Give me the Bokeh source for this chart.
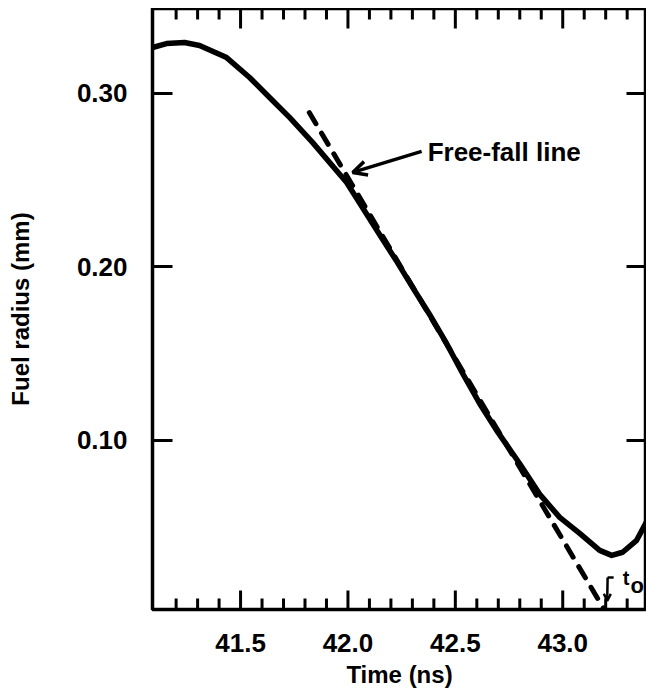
from bokeh.plotting import figure
from bokeh.layouts import column
from bokeh.models import (Range1d, LinearAxis, FixedTicker, PrintfTickFormatter,
                          Label, Arrow, OpenHead, Spacer)
from bokeh.embed import file_html
from bokeh.resources import INLINE

# ---- data ----
time_ns = [41.09, 41.155, 41.239, 41.309, 41.435, 41.542, 41.649, 41.728, 41.835,
           41.994, 42.147, 42.227, 42.301, 42.380, 42.459, 42.534, 42.613, 42.692,
           42.799, 42.893, 42.986, 43.079, 43.172, 43.228, 43.279, 43.344, 43.39]
radius_mm = [0.3265, 0.3288, 0.3294, 0.3277, 0.3207, 0.3092, 0.2960, 0.2862, 0.2718,
             0.2487, 0.2187, 0.2032, 0.1882, 0.1726, 0.1559, 0.1386, 0.1213, 0.1058,
             0.0867, 0.0689, 0.0556, 0.0464, 0.0366, 0.0337, 0.0355, 0.0424, 0.0530]

freefall_time = [41.82, 43.205]
freefall_radius = [0.289, 0.0]

x_major = [41.5, 42.0, 42.5, 43.0]
x_minor = [41.2, 41.3, 41.4, 41.6, 41.7, 41.8, 41.9, 42.1, 42.2, 42.3, 42.4,
           42.6, 42.7, 42.8, 42.9, 43.1, 43.2, 43.3]
y_major = [0.10, 0.20, 0.30]

X_START, X_END = 41.09, 43.39
Y_START, Y_END = 0.0025, 0.349

FONT = "Liberation Sans"

FIG_W, FIG_H = 646, 683
BORDER_L, BORDER_B = 152, 82
FRAME_H = FIG_H - BORDER_B          # top border is 0
PX_Y = (Y_END - Y_START) / FRAME_H  # data units per screen pixel (y)

p = figure(width=FIG_W, height=FIG_H, output_backend="svg", toolbar_location=None,
           x_range=Range1d(X_START, X_END), y_range=Range1d(Y_START, Y_END),
           x_axis_location=None, y_axis_location=None,
           min_border_left=BORDER_L, min_border_right=0, min_border_top=0,
           min_border_bottom=BORDER_B)
p.grid.grid_line_color = None
p.outline_line_color = "black"
p.outline_line_width = 3.5


def tick_axis(ticker, tin_major, tin_minor):
    ax = LinearAxis(ticker=ticker)
    ax.axis_line_color = None
    ax.major_tick_in = tin_major
    ax.major_tick_out = 0
    ax.minor_tick_in = tin_minor
    ax.minor_tick_out = 0
    ax.major_tick_line_width = 3
    ax.minor_tick_line_width = 3
    ax.major_tick_line_color = "black"
    ax.minor_tick_line_color = "black"
    ax.major_label_standoff = 0
    return ax


def label_axis(ticks, fmt, label, standoff, label_standoff):
    ax = LinearAxis(ticker=FixedTicker(ticks=ticks, minor_ticks=[]))
    ax.formatter = PrintfTickFormatter(format=fmt)
    ax.axis_line_color = None
    ax.major_tick_line_color = None
    ax.minor_tick_line_color = None
    ax.major_tick_in = 0
    ax.major_tick_out = 0
    ax.minor_tick_in = 0
    ax.minor_tick_out = 0
    ax.major_label_text_font = FONT
    ax.major_label_text_font_style = "bold"
    ax.major_label_text_font_size = "26px"
    ax.major_label_text_color = "black"
    ax.major_label_standoff = standoff
    ax.axis_label = label
    ax.axis_label_text_font = FONT
    ax.axis_label_text_font_style = "bold"
    ax.axis_label_text_font_size = "24px"
    ax.axis_label_text_color = "black"
    ax.axis_label_standoff = label_standoff
    return ax


# bottom labels
p.add_layout(label_axis(x_major, "%.1f", "Time (ns)", 24, 6), "below")

# left: tick marks (inner) + labels (outer)
p.add_layout(tick_axis(FixedTicker(ticks=[], minor_ticks=y_major), 0, 20), "left")
yl = label_axis(y_major, "%.2f", "Fuel radius (mm)", 25, 40)
yl.major_label_orientation = "horizontal"
p.add_layout(yl, "left")

# right: tick marks
p.add_layout(tick_axis(FixedTicker(ticks=[], minor_ticks=y_major), 0, 20), "right")


# inward tick marks on the bottom and top edges, at the x tick values,
# drawn as vertical dash markers whose length is given in screen pixels
def edge_ticks(xs, y_edge, length_px, direction):
    y_mid = y_edge + direction * 0.5 * length_px * PX_Y
    p.scatter(x=xs, y=[y_mid] * len(xs), marker="dash", size=length_px,
              angle=90, angle_units="deg", line_width=3, line_color="black",
              fill_color="black")


edge_ticks(x_major, Y_START, 19, +1)
edge_ticks(x_minor, Y_START, 11, +1)
edge_ticks(x_major, Y_END, 20, -1)
edge_ticks(x_minor, Y_END, 11, -1)

# curves
p.line(time_ns, radius_mm, line_width=5.5, line_color="black",
       line_join="round", line_cap="round")
p.line(freefall_time, freefall_radius, line_width=5, line_color="black",
       line_dash="13 11", line_cap="round")

# annotations
p.add_layout(Label(x=42.371, y=0.2665, text="Free-fall line", text_font=FONT,
                   text_font_style="bold", text_font_size="26px",
                   text_color="black", text_baseline="middle"))
p.add_layout(Arrow(end=OpenHead(size=14, line_width=3.5, line_color="black"),
                   x_start=42.343, y_start=0.2666, x_end=42.022, y_end=0.2545,
                   line_width=3.5, line_color="black"))

p.add_layout(Label(x=43.279, y=0.0208, text="t", text_font=FONT,
                   text_font_style="bold", text_font_size="20px",
                   text_color="black", text_baseline="middle"))
p.add_layout(Label(x=43.316, y=0.0162, text="o", text_font=FONT,
                   text_font_style="bold", text_font_size="22px",
                   text_color="black", text_baseline="middle"))
p.line([43.237, 43.209], [0.021, 0.021], line_width=2.5, line_color="black")
p.add_layout(Arrow(end=OpenHead(size=7, line_width=2.5, line_color="black"),
                   x_start=43.209, y_start=0.021, x_end=43.207, y_end=0.0075,
                   line_width=2.5, line_color="black"))

layout = column(Spacer(width=FIG_W, height=8), p, spacing=0)
open("out.html", "w").write(file_html(layout, INLINE))
